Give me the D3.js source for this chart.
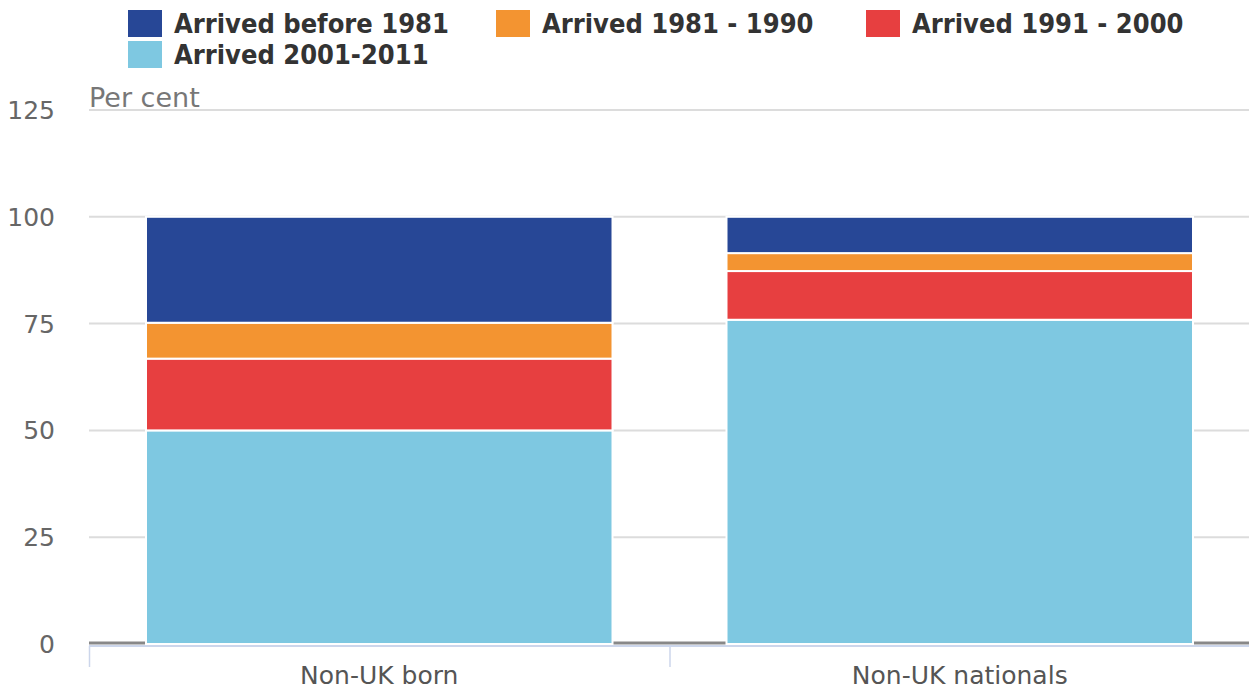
<!DOCTYPE html>
<html>
<head>
<meta charset="utf-8">
<script src="https://cdnjs.cloudflare.com/ajax/libs/d3/7.8.5/d3.min.js"></script>
<style>
  body { margin: 0; background: #fff; }
  svg { font-family: "DejaVu Sans", sans-serif; display: block; }
</style>
</head>
<body>
<svg id="chart"></svg>
<script>
// categories and series (per cent, stacked bottom to top)
const categories = ["Non-UK born", "Non-UK nationals"];
const seriesNames = ["Arrived 2001-2011", "Arrived 1991 - 2000", "Arrived 1981 - 1990", "Arrived before 1981"];
const arrived2001to2011 = [50.0, 75.9];
const arrived1991to2000 = [16.8, 11.4];
const arrived1981to1990 = [8.4, 4.2];
const arrivedBefore1981 = [24.8, 8.5];
const yTicks = [0, 25, 50, 75, 100, 125];
const legendOrder = ["Arrived before 1981", "Arrived 1981 - 1990", "Arrived 1991 - 2000", "Arrived 2001-2011"];

const colours = {
  "Arrived before 1981": "#274796",
  "Arrived 1981 - 1990": "#f39431",
  "Arrived 1991 - 2000": "#e73f40",
  "Arrived 2001-2011": "#7ec8e1"
};

const width = 1249, height = 691;
const margin = {left: 89, right: 0, top: 110, bottom: 46};

const svg = d3.select("#chart")
  .attr("width", width)
  .attr("height", height);

const valuesBySeries = [arrived2001to2011, arrived1991to2000, arrived1981to1990, arrivedBefore1981];
const rows = categories.map((c, i) => {
  const r = {category: c};
  seriesNames.forEach((s, j) => r[s] = valuesBySeries[j][i]);
  return r;
});

const stacked = d3.stack().keys(seriesNames)(rows);

const x = d3.scaleBand()
  .domain(categories)
  .range([margin.left, width - margin.right + 1])
  .paddingInner(0)
  .paddingOuter(0);

const y = d3.scaleLinear()
  .domain([0, 125])
  .range([height - margin.bottom - 1, margin.top]);

// grid lines
svg.append("g")
  .selectAll("line")
  .data(yTicks.filter(d => d > 0))
  .join("line")
  .attr("x1", margin.left)
  .attr("x2", width - margin.right)
  .attr("y1", d => y(d))
  .attr("y2", d => y(d))
  .attr("stroke", "#dcdcdc")
  .attr("stroke-width", 2);

// y tick labels
svg.append("g")
  .selectAll("text")
  .data(yTicks)
  .join("text")
  .attr("x", 55)
  .attr("y", d => y(d) + 9)
  .attr("text-anchor", "end")
  .attr("fill", "#666")
  .style("font-size", "25px")
  .text(d => d);

// axis title
svg.append("text")
  .attr("x", margin.left)
  .attr("y", y(125) - 3)
  .attr("fill", "#777")
  .style("font-size", "27px")
  .text("Per cent");

// zero line
svg.append("line")
  .attr("x1", margin.left)
  .attr("x2", width)
  .attr("y1", y(0) - 1)
  .attr("y2", y(0) - 1)
  .attr("stroke", "#888")
  .attr("stroke-width", 3);

// x axis line
svg.append("line")
  .attr("x1", margin.left)
  .attr("x2", width)
  .attr("y1", y(0) + 2)
  .attr("y2", y(0) + 2)
  .attr("stroke", "#ccd6eb")
  .attr("stroke-width", 2);

// x ticks at category boundaries
const boundaries = categories.map(c => x(c)).concat([x(categories[categories.length - 1]) + x.bandwidth()]);
svg.append("g")
  .selectAll("line")
  .data(boundaries)
  .join("line")
  .attr("x1", d => d + 0.5)
  .attr("x2", d => d + 0.5)
  .attr("y1", y(0) + 2)
  .attr("y2", y(0) + 23)
  .attr("stroke", "#ccd6eb")
  .attr("stroke-width", 1.5);

// bars
const barPad = 57;
svg.append("g")
  .selectAll("g")
  .data(stacked)
  .join("g")
  .attr("fill", d => colours[d.key])
  .selectAll("rect")
  .data(d => d)
  .join("rect")
  .attr("x", d => x(d.data.category) + barPad)
  .attr("width", x.bandwidth() - 2 * barPad)
  .attr("y", d => y(d[1]))
  .attr("height", d => y(d[0]) - y(d[1]))
  .attr("stroke", "#fff")
  .attr("stroke-width", 2);

// category labels
svg.append("g")
  .selectAll("text")
  .data(categories)
  .join("text")
  .attr("x", d => x(d) + x.bandwidth() / 2)
  .attr("y", 684)
  .attr("text-anchor", "middle")
  .attr("fill", "#555")
  .style("font-size", "25px")
  .text(d => d);

// legend
const legendPos = [[128, 10], [496, 10], [866, 10], [128, 41]];
const legend = svg.append("g")
  .selectAll("g")
  .data(legendOrder)
  .join("g")
  .attr("transform", (d, i) => `translate(${legendPos[i][0]},${legendPos[i][1]})`);

legend.append("rect")
  .attr("width", 34)
  .attr("height", 27)
  .attr("fill", d => colours[d]);

legend.append("text")
  .attr("x", 46)
  .attr("y", 23)
  .attr("fill", "#333")
  .style("font-family", "'DejaVu Sans Condensed', 'DejaVu Sans', sans-serif")
  .style("font-size", "27px")
  .style("font-weight", "bold")
  .text(d => d);
</script>
</body>
</html>
